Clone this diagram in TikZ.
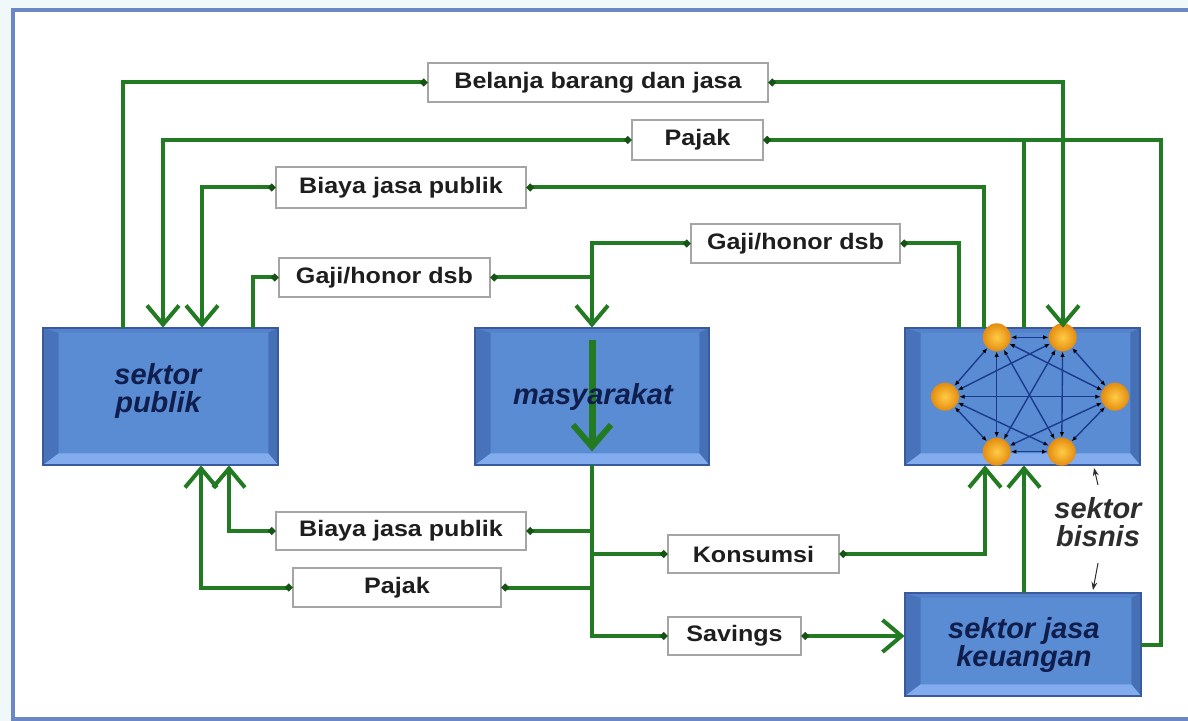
\documentclass[tikz,border=0pt]{standalone}
\usepackage{fontspec}
\setmainfont{Liberation Sans}
\newfontfamily\lblfont[FakeStretch=1.12]{Liberation Sans}
\usetikzlibrary{arrows.meta,calc}

\definecolor{pagebg}{RGB}{240,248,250}
\definecolor{framecol}{RGB}{108,135,198}
\definecolor{flowgreen}{RGB}{34,122,34}
\definecolor{dotgreen}{RGB}{22,84,22}
\definecolor{lblgray}{RGB}{165,165,165}
\definecolor{lbltext}{RGB}{30,30,30}
\definecolor{slabfill}{RGB}{90,140,212}
\definecolor{slabedge}{RGB}{58,90,158}
\definecolor{bevelleft}{RGB}{72,114,186}
\definecolor{beveltop}{RGB}{84,130,204}
\definecolor{bevelright}{RGB}{70,112,182}
\definecolor{bevelbottom}{RGB}{130,172,238}
\definecolor{slabtext}{RGB}{16,30,78}
\definecolor{netblue}{RGB}{28,58,140}
\definecolor{ballin}{RGB}{255,204,70}
\definecolor{ballout}{RGB}{228,140,16}
\definecolor{notegray}{RGB}{45,45,45}

\tikzset{
  ldot/.tip={Circle[length=3.5pt 0,color=dotgreen]},
  bigtip/.tip={Straight Barb[length=9.5pt 0,width=16pt 0]},
  flow/.style={draw=flowgreen,line width=2pt},
  innerflow/.style={draw=flowgreen,line width=3.5pt,-{Straight Barb[length=11pt 0,width=19pt 0,line width=3pt]}},
  lbl/.style={draw=lblgray,fill=white,line width=0.75pt,inner sep=0pt,
    font=\lblfont\bfseries\fontsize{11.2}{13}\selectfont,text=lbltext},
  slab/.style={rectangle,fill=slabfill,inner sep=0pt},
  slabtxt/.style={font=\bfseries\itshape\fontsize{14.5}{14}\selectfont,text=slabtext,align=center,inner sep=1pt},
  ball/.style={circle,inner sep=0pt,minimum size=14pt},
  netedge/.style={draw=netblue,line width=0.7pt,
    {Latex[length=2.6pt,width=2.2pt,color=black]}-{Latex[length=2.6pt,width=2.2pt,color=black]}},
  pointer/.style={draw=notegray,line width=0.5pt,-{Stealth[length=4pt,width=3pt]}}
}

% bevelled slab: four trapezoid rims and a dark outline
\newcommand\slabbevel[1]{%
  \fill[bevelleft] (#1.north west) -- (#1.south west) -- ([shift={(8pt,6pt)}]#1.south west) -- ([shift={(8pt,-2.5pt)}]#1.north west) -- cycle;
  \fill[beveltop] (#1.north west) -- (#1.north east) -- ([shift={(-5pt,-2.5pt)}]#1.north east) -- ([shift={(8pt,-2.5pt)}]#1.north west) -- cycle;
  \fill[bevelright] (#1.north east) -- (#1.south east) -- ([shift={(-5pt,6pt)}]#1.south east) -- ([shift={(-5pt,-2.5pt)}]#1.north east) -- cycle;
  \fill[bevelbottom] (#1.south west) -- (#1.south east) -- ([shift={(-5pt,6pt)}]#1.south east) -- ([shift={(8pt,6pt)}]#1.south west) -- cycle;
  \draw[slabedge,line width=1pt] (#1.north west) rectangle (#1.south east);
}

\begin{document}
\begin{tikzpicture}[x=0.5pt,y=-0.5pt]
\useasboundingbox (0,0) rectangle (1188,721);
\clip (0,0) rectangle (1188,721);

% page and frame
\fill[pagebg] (0,0) rectangle (1188,721);
\fill[white] (13,10) rectangle (1200,719);
\draw[framecol,line width=1.6pt] (1200,10) -- (13,10) -- (13,719) -- (1200,719);

% sectors
\node[slab,minimum width=117.5pt,minimum height=68.5pt] (publik) at (160.5,396.5) {};
\node[slab,minimum width=117pt,minimum height=68.5pt] (masy) at (592,396.5) {};
\node[slab,minimum width=117.5pt,minimum height=68.5pt] (bisnis) at (1022.5,396.5) {};
\node[slab,minimum width=118pt,minimum height=51.5pt] (keu) at (1023,644.5) {};
\slabbevel{publik}
\slabbevel{masy}
\slabbevel{bisnis}
\slabbevel{keu}

% firms network inside the business sector
\node[ball] (b1) at (996.7,337.3) {};
\node[ball] (b2) at (1062.7,337.3) {};
\node[ball] (b3) at (945,396.7) {};
\node[ball] (b4) at (1115,396.7) {};
\node[ball] (b5) at (996.7,451.7) {};
\node[ball] (b6) at (1061.7,451.7) {};
\foreach \p/\q in {b1/b2,b1/b3,b1/b4,b1/b5,b1/b6,b2/b3,b2/b4,b2/b5,b2/b6,b3/b4,b3/b5,b3/b6,b4/b5,b4/b6,b5/b6}
  \draw[netedge] (\p) -- (\q);
\foreach \p in {b1,b2,b3,b4,b5,b6}
  \shade[inner color=ballin,outer color=ballout] (\p.center) circle[radius=7pt];

% flow labels
\node[lbl,minimum width=170pt,minimum height=19.5pt] (belanja) at (598,82.5) {Belanja barang dan jasa};
\node[lbl,minimum width=65.5pt,minimum height=20pt] (pajakA) at (697.5,140) {Pajak};
\node[lbl,minimum width=125pt,minimum height=20.5pt] (biayaA) at (401,187.5) {Biaya jasa publik};
\node[lbl,minimum width=105.5pt,minimum height=19.5pt] (gajiA) at (384.5,277.5) {Gaji/honor dsb};
\node[lbl,minimum width=104.5pt,minimum height=19.5pt] (gajiB) at (795.5,243.5) {Gaji/honor dsb};
\node[lbl,minimum width=125pt,minimum height=19pt] (biayaB) at (401,531) {Biaya jasa publik};
\node[lbl,minimum width=104pt,minimum height=19.5pt] (pajakB) at (397,587.5) {Pajak};
\node[lbl,minimum width=85.5pt,minimum height=19pt] (konsumsi) at (753.5,554) {Konsumsi};
\node[lbl,minimum width=66.5pt,minimum height=19pt] (savings) at (734.5,636) {Savings};

% vertical tracks of the connectors
\coordinate (xBelL) at (123,0);
\coordinate (xPajL) at (163,0);
\coordinate (xBiaL) at (202,0);
\coordinate (xGajL) at (253,0);
\coordinate (xPajB) at (201,0);
\coordinate (xBiaB) at (229,0);
\coordinate (xGajR) at (959,0);
\coordinate (xBiaR) at (984,0);
\coordinate (xKon) at (985,0);
\coordinate (xPajR) at (1024,0);
\coordinate (xBelR) at (1063,0);
\coordinate (xKeuR) at (1161,0);

% government spending
\draw[flow,-ldot] (publik.north -| xBelL) |- (belanja.west);
\draw[flow,ldot-bigtip] (belanja.east) -| (bisnis.north -| xBelR);
% taxes from business and finance
\draw[flow,-ldot] (bisnis.north -| xPajR) |- (pajakA.east);
\draw[flow,-ldot] (keu.east) -| (pajakA.east -| xKeuR) -- (pajakA.east);
\draw[flow,ldot-bigtip] (pajakA.west) -| (publik.north -| xPajL);
% public service fees from business
\draw[flow,-ldot] (bisnis.north -| xBiaR) |- (biayaA.east);
\draw[flow,ldot-bigtip] (biayaA.west) -| (publik.north -| xBiaL);
% wages to households
\draw[flow,-ldot] (publik.north -| xGajL) |- (gajiA.west);
\draw[flow,ldot-] (gajiA.east) -- (gajiA.east -| masy.north);
\draw[flow,-ldot] (bisnis.north -| xGajR) |- (gajiB.east);
\draw[flow,ldot-bigtip] (gajiB.west) -| (masy.north);
\draw[innerflow] ([yshift=-6pt]masy.north) -- ([yshift=7pt]masy.south);
% household outflows
\draw[flow,-ldot] (masy.south) |- (savings.west);
\draw[flow,-ldot] (masy.south |- biayaB.east) -- (biayaB.east);
\draw[flow,ldot-bigtip] (biayaB.west) -| (publik.south -| xBiaB);
\draw[flow,-ldot] (masy.south |- pajakB.east) -- (pajakB.east);
\draw[flow,ldot-bigtip] (pajakB.west) -| (publik.south -| xPajB);
\draw[flow,-ldot] (masy.south |- konsumsi.west) -- (konsumsi.west);
\draw[flow,ldot-bigtip] (konsumsi.east) -| (bisnis.south -| xKon);
\draw[flow,ldot-bigtip] (savings.east) -- (keu.west |- savings.east);
\draw[flow,-bigtip] (keu.north -| xPajR) -- (bisnis.south -| xPajR);

% sector names
\node[slabtxt] (publikT) at (158,391) {sektor\\publik};
\node[slabtxt] (masyT) at (593,397.5) {masyarakat};
\node[slabtxt] (keuT) at (1024,645) {sektor jasa\\keuangan};
\node[slabtxt,text=notegray] (bisnisT) at (1098,522) {sektor\\bisnis};

% pointers of the business-sector note
\coordinate (tipUp) at (1094,468);
\coordinate (tipDn) at (1093,590);
\draw[pointer] ([yshift=5pt]bisnisT.north) -- (tipUp);
\draw[pointer] ([yshift=-7pt]bisnisT.south) -- (tipDn);
\end{tikzpicture}
\end{document}
